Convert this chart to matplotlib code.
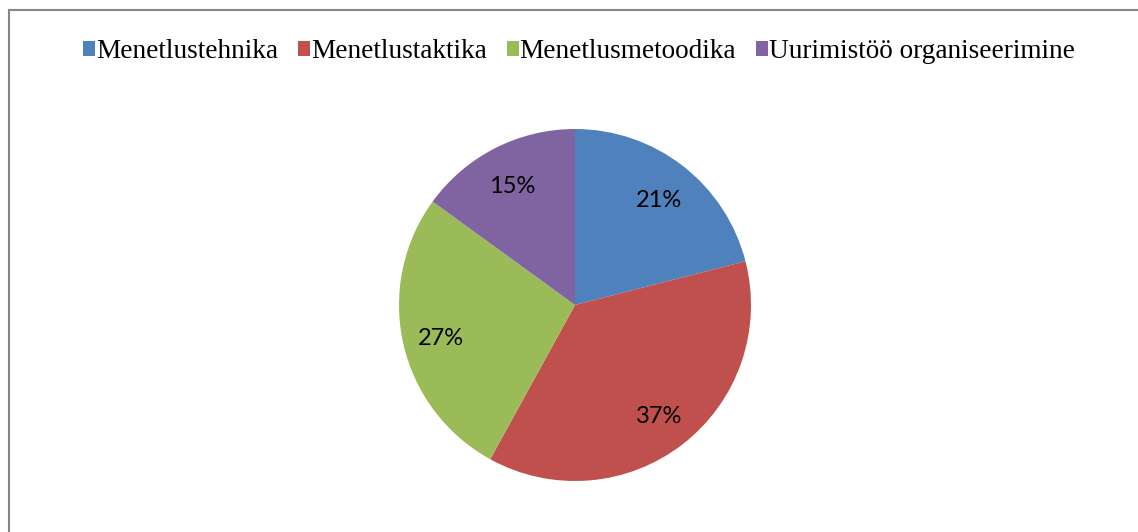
import matplotlib.pyplot as plt
from matplotlib.lines import Line2D
from matplotlib.patches import Patch

kategooriad = ["Menetlustehnika", "Menetlustaktika", "Menetlusmetoodika",
               "Uurimistöö organiseerimine"]
osakaal = [21, 37, 27, 15]
varvid = ["#4F81BD", "#C0504D", "#9BBB59", "#8064A2"]

W, H = 1138, 532
fig = plt.figure(figsize=(W / 100, H / 100), dpi=100)
fig.patch.set_facecolor("white")

# raam: ainult vasak ja ulemine serv on pildil naha
fig.lines.append(Line2D([8.5 / W, 8.5 / W], [0, 1 - 10 / H], transform=fig.transFigure,
                        color="#868686", linewidth=1.5))
fig.lines.append(Line2D([8.5 / W, 1.01], [1 - 10 / H, 1 - 10 / H], transform=fig.transFigure,
                        color="#868686", linewidth=1.5, clip_on=False))

# pirukas: keskpunkt (575, 305), raadius 176 px
cx, cy, r = 575, 305, 176
ax = fig.add_axes([(cx - r) / W, (H - cy - r) / H, 2 * r / W, 2 * r / H])
wedges, texts, autotexts = ax.pie(
    osakaal, colors=varvid, startangle=90, counterclock=False,
    autopct="%1.0f%%", pctdistance=0.78, radius=1,
    wedgeprops=dict(linewidth=0),
    textprops=dict(fontsize=17, family="Lato", color="black"))
for t in autotexts:
    x, y = t.get_position()
    t.set_position((x, y - 0.02))
ax.set_xlim(-1, 1)
ax.set_ylim(-1, 1)
ax.set_aspect("equal")
ax.axis("off")

kasitsed = [Patch(facecolor=c, edgecolor="none") for c in varvid]
fig.legend(kasitsed, kategooriad, loc="center",
           bbox_to_anchor=(0.5 + 10 / W, 1 - 52 / H),
           ncol=4, frameon=False, handlelength=0.45, handleheight=0.45,
           handletextpad=0.02, columnspacing=0.74,
           prop=dict(family="Liberation Serif", size=19.6))

fig.savefig("out.png", dpi=100)
